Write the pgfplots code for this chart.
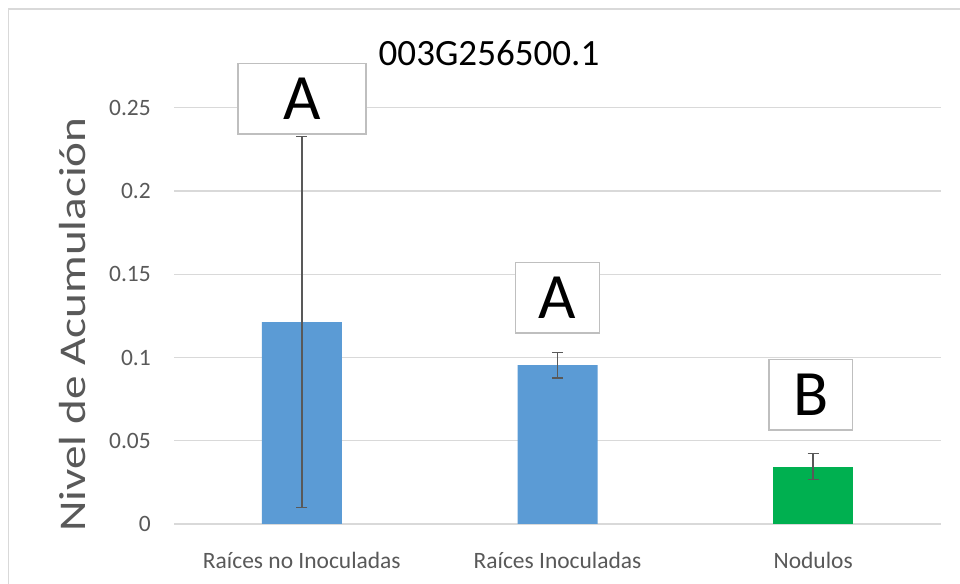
\documentclass[border=0pt]{standalone}
\usepackage{fontspec}
\setmainfont{Carlito}
\usepackage{graphicx}
\usepackage{pgfplots}
\pgfplotsset{compat=1.18}
\definecolor{gridc}{HTML}{D9D9D9}
\definecolor{txtc}{HTML}{595959}
\definecolor{barblue}{HTML}{5B9BD5}
\definecolor{bargreen}{HTML}{00B050}
\definecolor{boxc}{HTML}{BFBFBF}
\begin{document}
\begin{tikzpicture}
\useasboundingbox (0,0) rectangle (720pt,438pt);
\fill[white] (0,0) rectangle (720pt,438pt);
\draw[gridc, line width=1.1pt] (6.2pt,0) -- (6.2pt,431.25pt) -- (720pt,431.25pt);
\begin{axis}[
  at={(130.5pt,45pt)}, anchor=south west,
  scale only axis, width=575.25pt, height=312.2pt,
  xmin=-0.5, xmax=2.5, ymin=0, ymax=0.25,
  ybar, bar width=60pt, bar shift=0pt,
  xtick={0,1,2}, xticklabels={Raíces no Inoculadas, Raíces Inoculadas, Nodulos},
  ytick={0,0.05,0.1,0.15,0.2,0.25}, yticklabels={0,0.05,0.1,0.15,0.2,0.25},
  axis line style={draw=none}, major tick style={draw=none},
  ymajorgrids, grid style={gridc, line width=1pt},
  xticklabel style={anchor=base, yshift=-29.25pt, inner sep=0pt, font=\fontsize{17.6pt}{20pt}\selectfont, text=txtc},
  yticklabel style={anchor=east, inner sep=0pt, xshift=-17.25pt, font=\fontsize{17.6pt}{20pt}\selectfont, text=txtc},
  clip=false,
  error bars/y dir=both, error bars/y explicit,
  error bars/error bar style={txtc, line width=1.1pt},
  error bars/error mark options={rotate=90, txtc, line width=1.1pt, mark size=4.1pt},
]
\addplot[fill=barblue, draw=none] table[x=x, y=y, y error=e] {
x y e
0 0.1213 0.1113
1 0.0954 0.0077
};
\addplot[fill=bargreen, draw=none] table[x=x, y=y, y error=e] {
x y e
2 0.0345 0.0079
};
\node[draw=boxc, line width=1pt, fill=white, minimum width=96pt, minimum height=53pt, inner sep=0pt, font=\fontsize{48.5pt}{50pt}\selectfont] at (axis cs:0,0.2554) {A};
\node[draw=boxc, line width=1pt, fill=white, minimum width=62.7pt, minimum height=53pt, inner sep=0pt, font=\fontsize{48.5pt}{50pt}\selectfont] at (axis cs:1.0,0.1359) {A};
\node[draw=boxc, line width=1pt, fill=white, minimum width=62.5pt, minimum height=52.7pt, inner sep=0pt, font=\fontsize{48.5pt}{50pt}\selectfont] at (axis cs:1.99,0.0776) {B};
\end{axis}
\node[anchor=base, font=\fontsize{27.8pt}{30pt}\selectfont] at (366.75pt,388.5pt) {003G256500.1};
\node[rotate=90, anchor=base, inner sep=0pt, text=txtc, font=\fontsize{28.3pt}{30pt}\selectfont] at (63.75pt,194.6pt) {\scalebox{1.25}[1]{Nivel de Acumulación}};
\end{tikzpicture}
\end{document}
